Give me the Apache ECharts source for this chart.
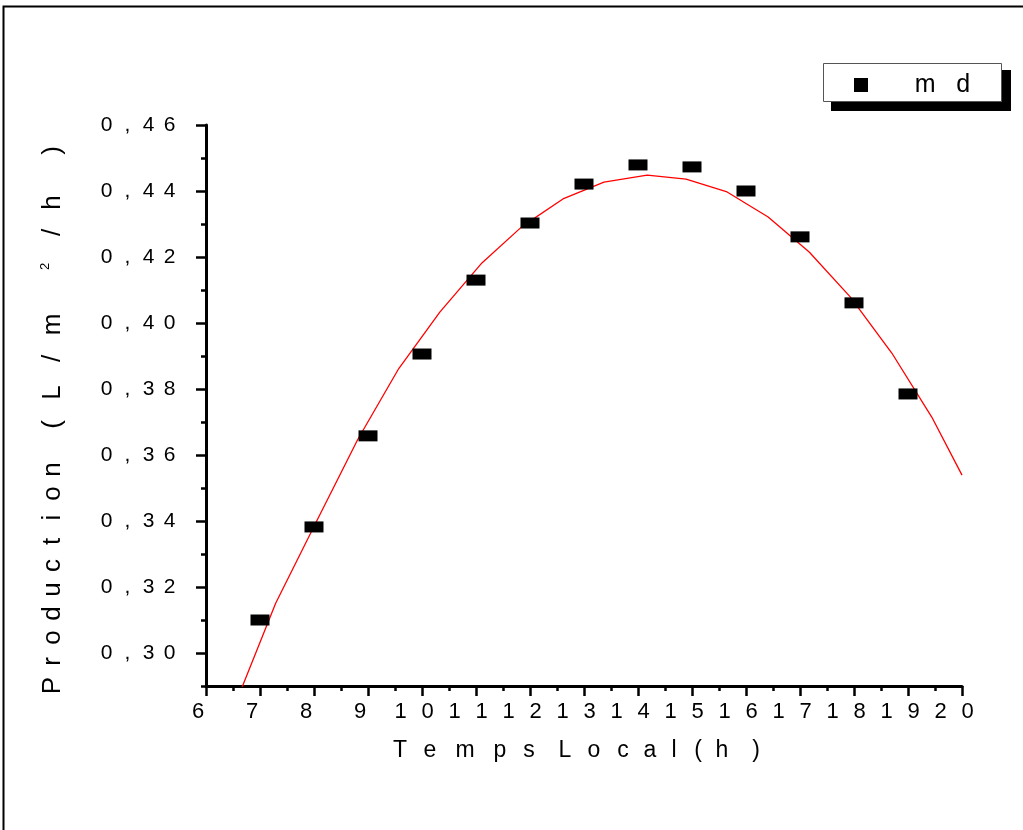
<!DOCTYPE html>
<html>
<head>
<meta charset="utf-8">
<style>
  html, body { margin: 0; padding: 0; background: #fff; }
  #chart { width: 1023px; height: 830px; }
</style>
<script src="https://cdn.jsdelivr.net/npm/echarts@6/dist/echarts.min.js"></script>
</head>
<body>
<div id="chart"></div>
<script>
// mesures (points noirs)
const hours = [7, 8, 9, 10, 11, 12, 13, 14, 15, 16, 17, 18, 19]
const production = [0.3100, 0.3382, 0.3658, 0.3906, 0.4130, 0.4303, 0.4421, 0.4479, 0.4473, 0.4400, 0.4261, 0.4061, 0.3785]

// courbe d'ajustement (rouge)
const fitHours = [6.53, 7.29, 8.05, 8.81, 9.57, 10.33, 11.11, 11.85, 12.61, 13.37, 14.17, 14.89, 15.65, 16.41, 17.17, 17.93, 18.70, 19.44, 20.00]
const fitProduction = [0.284, 0.3151, 0.3400, 0.3647, 0.3862, 0.4033, 0.4182, 0.4292, 0.4376, 0.4427, 0.4448, 0.4436, 0.4397, 0.4321, 0.4215, 0.4079, 0.3909, 0.3715, 0.3539]

const font = "'Liberation Sans', Arial, sans-serif"

// textes espacés lettre par lettre (comme l'original)
const xNameChars = ['T', 'e', 'm', 'p', 's', 'L', 'o', 'c', 'a', 'l', '(', 'h', ')']
const xNameGaps = [6, 11, 11, 5, 12, 5, 5, 3, 0, 0, 0, 10, 12]
const yNameChars = ['P', 'r', 'o', 'd', 'u', 'c', 't', 'i', 'o', 'n', '(', 'L', '/', 'm', '²', '/', 'h', ')']
const yNameGaps = [0, 0, 0, 0, 0, 0, 0, 0, 0, 21, 8, 10, 10, 34, 10, 6, 28, 25]

// '²' -> chiffre 2 en exposant (style s)
const spaced = (chars, gaps) =>
  chars.map((c, i) => (c === '²' ? '{s|2}' : `{c|${c}}`) + (gaps && gaps[i] > 0 ? `{g${gaps[i]}| }` : '')).join('')

const makeRich = (fontSize, cellWidth, gaps) => {
  const rich = {
    c: { fontSize, width: cellWidth, align: 'center', color: '#000', fontFamily: font },
    s: { fontSize: 13, width: cellWidth, align: 'center', color: '#000', fontFamily: font, padding: [0, 0, 15, 0] }
  }
  ;(gaps || []).forEach((g) => {
    if (g > 0) rich['g' + g] = { width: g, fontSize }
  })
  return rich
}

const initChart = () => {
  const option = {
    animation: false,
    backgroundColor: '#fff',
    graphic: [
      // cadre extérieur
      {
        type: 'rect',
        shape: { x: 3.5, y: 6.5, width: 1100, height: 900 },
        style: { fill: 'none', stroke: '#000', lineWidth: 2 }
      },
      // ombre de la légende
      {
        type: 'rect',
        shape: { x: 831, y: 70, width: 180, height: 41 },
        style: { fill: '#000' }
      },
      {
        type: 'rect',
        shape: { x: 823.5, y: 63.5, width: 178, height: 38 },
        style: { fill: '#fff', stroke: '#555', lineWidth: 1 }
      }
    ],
    legend: {
      data: ['md'],
      left: 854,
      top: 72,
      padding: 0,
      icon: 'rect',
      itemWidth: 14,
      itemHeight: 14,
      itemStyle: { color: '#000', borderWidth: 0 },
      formatter: () => '      m   d',
      textStyle: { color: '#000', fontSize: 25, lineHeight: 26, fontFamily: font }
    },
    grid: [
      // grille des données : 0,29 -> 0,46
      { left: 206, top: 125, width: 756, height: 561 },
      // grille des graduations principales : 0,30 -> 0,46
      { left: 206, top: 125, width: 756, height: 528 }
    ],
    xAxis: [
      {
        type: 'value',
        gridIndex: 0,
        min: 6,
        max: 20,
        interval: 1,
        name: spaced(xNameChars, xNameGaps),
        nameLocation: 'middle',
        nameGap: 53,
        nameTextStyle: { color: '#000', fontFamily: font, rich: makeRich(23, 24, xNameGaps) },
        axisLine: { lineStyle: { color: '#000', width: 3 } },
        axisTick: { length: 10, lineStyle: { color: '#000', width: 2.5 } },
        minorTick: { show: true, splitNumber: 2, length: 5, lineStyle: { color: '#000', width: 2.5 } },
        splitLine: { show: false },
        axisLabel: {
          margin: 15,
          padding: [0, 16, 0, 0],
          rich: makeRich(22, 27),
          formatter: (v) => spaced(String(v).split(''))
        }
      },
      { type: 'value', gridIndex: 1, min: 6, max: 20, show: false }
    ],
    yAxis: [
      {
        type: 'value',
        gridIndex: 0,
        min: 0.29,
        max: 0.46,
        interval: 0.01,
        name: spaced(yNameChars, yNameGaps),
        nameLocation: 'middle',
        nameGap: 139,
        nameTextStyle: { color: '#000', fontFamily: font, rich: makeRich(26, 24, yNameGaps) },
        axisLine: { lineStyle: { color: '#000', width: 3 } },
        axisTick: { length: 5, lineStyle: { color: '#000', width: 2.5 } },
        axisLabel: { show: false },
        splitLine: { show: false }
      },
      {
        type: 'value',
        gridIndex: 1,
        min: 0.30,
        max: 0.46,
        interval: 0.02,
        axisLine: { show: false },
        axisTick: { length: 10, lineStyle: { color: '#000', width: 2.5 } },
        splitLine: { show: false },
        axisLabel: {
          margin: 26,
          rich: makeRich(21, 21),
          formatter: (v) => spaced(v.toFixed(2).replace('.', ',').split(''))
        }
      }
    ],
    series: [
      {
        name: 'fit',
        type: 'line',
        xAxisIndex: 0,
        yAxisIndex: 0,
        showSymbol: false,
        clip: true,
        lineStyle: { color: '#ff0000', width: 1.3 },
        data: fitHours.map((h, i) => [h, fitProduction[i]]),
        z: 2
      },
      {
        name: 'md',
        type: 'scatter',
        xAxisIndex: 0,
        yAxisIndex: 0,
        symbol: 'rect',
        symbolSize: [19, 11],
        itemStyle: { color: '#000', borderWidth: 0, opacity: 1 },
        data: hours.map((h, i) => [h, production[i]]),
        z: 3
      }
    ]
  }

  const myChart = echarts.init(document.getElementById('chart'))
  option && myChart.setOption(option)
}

initChart()
</script>
</body>
</html>
